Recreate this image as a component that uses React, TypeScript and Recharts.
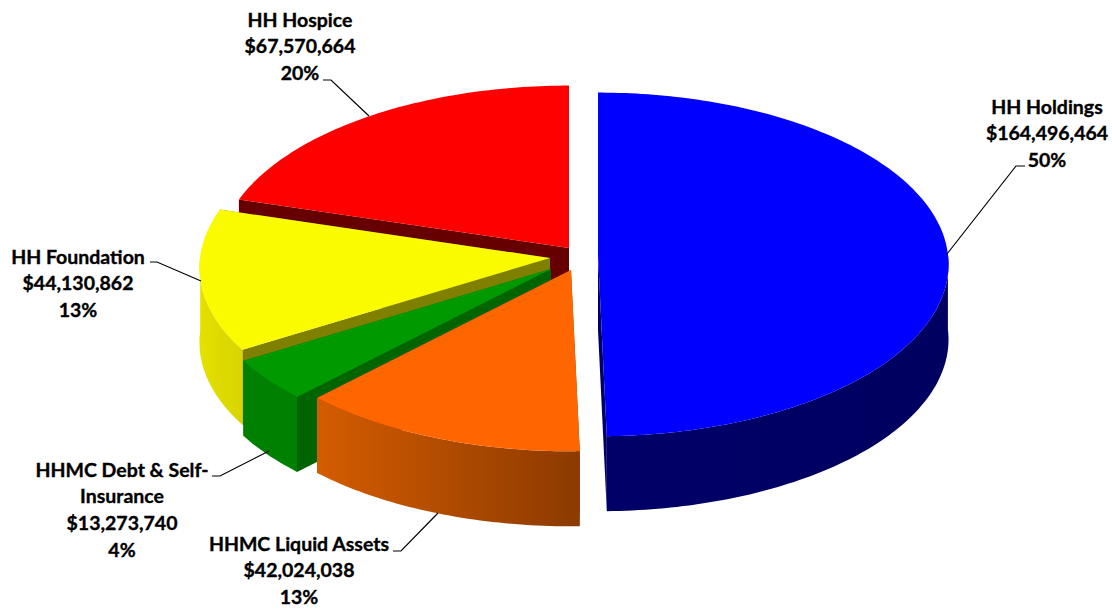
import React from 'react';
import {Pie, PieChart} from "recharts";

// drawn counter-clockwise from the top, so the front slices paint last
const names = ['HH Hospice', 'HH Foundation', 'HHMC Debt & Self-Insurance', 'HHMC Liquid Assets', 'HH Holdings'];
const values = [67570664, 44130862, 13273740, 42024038, 164496464];
const labelNames = [['HH Hospice'], ['HH Foundation'], ['HHMC Debt & Self-', 'Insurance'], ['HHMC Liquid Assets'], ['HH Holdings']];

const topColors = ['#ff0000', '#fbfb00', '#009900', '#ff6600', '#0000ff'];
const cutColors = ['#660000', '#808000', '#006400', '#8c3a00', '#000064'];
const wallFrom = ['#a00000', '#e4e000', '#008000', '#d45c00', '#000068'];
const wallTo = ['#a00000', '#d8d400', '#008000', '#8c3a00', '#000060'];

// how far each slice is pulled out of the pie
const offsetX = [-1, -20, -19, 1, 28];
const offsetY = [-12, -2, 9, 10, -5];

const labelX = [300, 78, 122, 299, 1047];
const labelY = [20, 257, 470, 544, 107];
const leaderLines = [
    '323,80 331,80 369,116',
    '150,262 157,262 201,281',
    '212,476 220,476 269,451',
    '393,551 401,551 438,513',
    '1025,166 1016,166 947,254',
];

const data = names.map((name, i) => ({name, value: values[i]}));

const CX = 570;
const CY = 260;
const RADIUS = 350;
const SQUASH = 0.491;
const PERSPECTIVE = 0.055;
const DEPTH = 75;
const LINE_HEIGHT = 26.6;
const RAD = Math.PI / 180;

const project = (angle: number, ax: number, ay: number) => {
    const u = Math.cos(angle * RAD);
    const v = -Math.sin(angle * RAD);
    const s = 1 + PERSPECTIVE * v;
    return [ax + RADIUS * u * s, ay + RADIUS * SQUASH * v * s];
};

const toPath = (pts: number[][]) =>
    'M' + pts.map(p => `${p[0].toFixed(1)},${p[1].toFixed(1)}`).join('L') + 'Z';

const down = (pts: number[][]) => pts.map(p => [p[0], p[1] + DEPTH]);

const Slice3D = (props: any) => {
    const i = names.indexOf(props.name);
    const ax = props.cx + offsetX[i];
    const ay = props.cy + offsetY[i];
    const a0 = Math.min(props.startAngle, props.endAngle);
    const a1 = Math.max(props.startAngle, props.endAngle);

    const arc: number[] = [];
    for (let a = a0; a < a1; a += 1) arc.push(a);
    arc.push(a1);

    const apex = [ax, ay];
    const rim = arc.map(a => project(a, ax, ay));
    const front = arc.filter(a => Math.sin(a * RAD) <= 0.02).map(a => project(a, ax, ay));
    const first = rim[0];
    const last = rim[rim.length - 1];
    const id = `wall-${i}`;

    return (
        <g>
            <defs>
                <linearGradient id={id} x1="0" y1="0" x2="1" y2="0">
                    <stop offset="0%" stopColor={wallFrom[i]}/>
                    <stop offset="100%" stopColor={wallTo[i]}/>
                </linearGradient>
            </defs>
            <path d={toPath([apex, first, ...down([first, apex])])} fill={cutColors[i]}/>
            <path d={toPath([apex, last, ...down([last, apex])])} fill={cutColors[i]}/>
            {front.length > 1 && <path d={toPath([...front, ...down(front).reverse()])} fill={`url(#${id})`}/>}
            <path d={toPath([apex, ...rim])} fill={topColors[i]}/>
        </g>
    );
};

const renderLabel = (props: any) => {
    const i = names.indexOf(props.name);
    const lines = [
        ...labelNames[i],
        '$' + props.value.toLocaleString('en-US'),
        Math.round(props.percent * 100) + '%',
    ];
    return (
        <text key={props.name} textAnchor="middle" fontFamily="Lato" fontWeight={700} fontSize={19.5}
              fill="#000" stroke="#000" strokeWidth={0.35}>
            {lines.map((line, k) => (
                <tspan key={k} x={labelX[i]} y={labelY[i] + k * LINE_HEIGHT} dy="0.35em">{line}</tspan>
            ))}
        </text>
    );
};

const renderLeader = (props: any) => {
    const i = names.indexOf(props.name);
    return <polyline key={props.name} points={leaderLines[i]} fill="none" stroke="#000" strokeWidth={1.2}/>;
};

const App = () => {
    return (
        <div style={{position: 'absolute', left: 0, top: 0}}>
            <PieChart width={1112} height={609} margin={{top: 0, right: 0, bottom: 0, left: 0}}>
                <Pie
                    dataKey="value"
                    nameKey="name"
                    data={data}
                    cx={CX}
                    cy={CY}
                    innerRadius={0}
                    outerRadius={RADIUS}
                    startAngle={90}
                    endAngle={450}
                    stroke="none"
                    shape={Slice3D}
                    label={renderLabel}
                    labelLine={renderLeader}
                    isAnimationActive={false}
                />
            </PieChart>
        </div>
    );
};

export default App;
